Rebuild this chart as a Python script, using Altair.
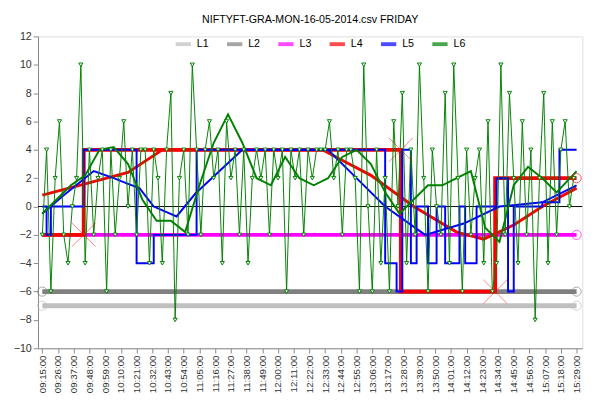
import altair as alt
import pandas as pd

# minutes after 09:15
N = 374

l4_x = [0, 29, 29, 251, 251, 317, 317, 374]
l4_y = [-2, -2, 4, 4, -6, -6, 2, 2]

l4t_x = [0, 30, 60, 84, 196, 230, 260, 290, 309, 330, 350, 374]
l4t_y = [0.8, 1.6, 2.4, 4.0, 4.0, 2.2, 0.0, -1.8, -2.3, -1.3, 0.0, 1.3]

l5_x = [0, 3, 3, 6, 6, 29, 29, 66, 66, 78, 78, 108, 108, 240, 240, 248, 248, 252, 252, 258, 258, 262, 262, 270, 270, 276, 276,
        282, 282, 292, 292, 296, 296, 304, 304, 318, 318, 326, 326, 330, 330, 350, 350, 362, 362, 374]
l5_y = [0, 0, -2, -2, 0, 0, 4, 4, -4, -4, -2, -2, 4, 4, -4, -4, -6, -6, 4, 4, -4, -4, 0, 0, -4, -4, 0,
        0, -4, -4, 0, 0, -4, -4, 0, 0, 2, 2, -6, -6, 0, 0, 0.3, 0.3, 4, 4]

l5s_x = [0, 15, 36, 50, 60, 68, 78, 94, 107, 140, 200, 215, 240, 268, 295, 320, 350, 374]
l5s_y = [-0.5, 0.8, 2.5, 2.0, 1.6, 1.3, 0.0, -0.7, 0.9, 4.0, 4.0, 2.5, 0.0, -2.0, -1.2, 0.0, 0.3, 1.5]

l6_x = list(range(0, 375, 3))
l6_y = [-2, 4, -6, 2, 6, -2, -4, 0, 2, 10, -4, 4, -2, 2, 4, -6, 4, -2, 2, 6, 0, 4, -2, 4, 4,
        -4, 4, 2, -4, 4, 8, -8, 2, 4, -2, 10, 4, -2, 4, 6, 2, 4, -4, 6, 2, 4, -2, 4, -4, 2,
        4, 2, 4, -2, 4, 2, 4, -6, 4, 2, 4, -2, 4, 2, 4, 4, 4, 6, 2, 4, -2, 4, 4, 2, -6,
        10, 0, -6, 4, -4, 2, -6, 6, 0, 8, -4, 4, -2, 10, 2, -6, 4, 0, -2, 8, -4, 10, 2, -6, 4,
        -2, 2, 4, -4, 6, -6, -4, 10, -2, 8, 2, -4, 6, -2, 4, -8, 2, 8, -4, 6, -2, 4, 6, 0, 2]

l6s_x = [0, 10, 20, 30, 40, 50, 60, 70, 80, 90, 100, 110, 120, 130, 140, 150, 160, 170, 180, 190, 200,
         210, 220, 230, 240, 250, 260, 270, 280, 290, 300, 310, 320, 330, 340, 350, 360, 374]
l6s_y = [-0.5, 0.5, 1.5, 2.2, 4.0, 4.2, 3.0, 0.5, -1.0, -1.0, -1.8, 1.5, 4.5, 6.5, 4.5, 2.0, 1.5, 3.5, 2.0, 1.5, 2.0,
         3.5, 4.0, 3.0, 1.0, -0.5, 0.5, 1.5, 1.5, 2.0, 2.5, -1.5, -2.5, 1.5, 2.8, 2.0, 1.0, 2.5]

cross_x = [29, 251, 317]
cross_y = [-2, 4, -6]

rows = []
rows += [dict(t=x, v=-7, s="L1", k="L1") for x in (0, N)]
rows += [dict(t=x, v=-6, s="L2", k="L2") for x in (0, N)]
rows += [dict(t=x, v=-2, s="L3", k="L3") for x in (0, N)]
rows += [dict(t=x, v=y, s="L4", k="L4") for x, y in zip(l4_x, l4_y)]
rows += [dict(t=x, v=y, s="L4", k="L4t") for x, y in zip(l4t_x, l4t_y)]
rows += [dict(t=x, v=y, s="L5", k="L5") for x, y in zip(l5_x, l5_y)]
rows += [dict(t=x, v=y, s="L5", k="L5s") for x, y in zip(l5s_x, l5s_y)]
rows += [dict(t=x, v=y, s="L6", k="L6") for x, y in zip(l6_x, l6_y)]
rows += [dict(t=x, v=y, s="L6", k="L6s") for x, y in zip(l6s_x, l6s_y)]
df = pd.DataFrame(rows)
df["o"] = range(len(df))

names = ["L1", "L2", "L3", "L4", "L5", "L6"]
colors = ["#c0c0c0", "#808080", "#ff00ff", "#ff0000", "#0000ff", "#008000"]
widths = {"L1": 5, "L2": 5, "L3": 4, "L4": 4, "L4t": 3, "L5": 2, "L5s": 2, "L6": 1, "L6s": 2}
df["w"] = df["k"].map(widths)

label = ("(floor((datum.value+555)/60)<10?'0':'')+floor((datum.value+555)/60)+':'+"
         "(((datum.value+555)%60)<10?'0':'')+((datum.value+555)%60)+':00'")

xs = alt.Scale(domain=[-3, N + 4], nice=False)
ys = alt.Scale(domain=[-10, 12])
x = alt.X("t:Q", scale=xs,
          axis=alt.Axis(values=list(range(0, N + 1, 11)), labelExpr=label, labelAngle=-90,
                        labelOverlap=False, grid=False, title=None, labelFontSize=10,
                        labelColor="#333", labelFlush=False))
y = alt.Y("v:Q", scale=ys,
          axis=alt.Axis(values=list(range(-10, 13, 2)), labelOverlap=False, grid=False, title=None,
                        labelFontSize=11, labelColor="#333"))
color = alt.Color("s:N", scale=alt.Scale(domain=names, range=colors),
                  legend=alt.Legend(orient="none", legendX=140, legendY=-2, direction="horizontal",
                                    title=None, symbolType="stroke", symbolStrokeWidth=4,
                                    labelFontSize=11, symbolSize=250, columnPadding=10))

lines = alt.Chart(df).mark_line(interpolate="linear").encode(
    x=x, y=y, color=color, detail="k:N", order="o:Q",
    strokeWidth=alt.StrokeWidth("w:Q", scale=None, legend=None))

pts = alt.Chart(pd.DataFrame({"t": l6_x, "v": l6_y})).mark_point(
    shape="triangle-down", size=18, color="#008000", fill="white", filled=True,
    stroke="#008000", strokeWidth=1, opacity=1).encode(x=x, y=y)

zero = alt.Chart(pd.DataFrame({"t": [-3, N + 4], "v": [0, 0]})).mark_line(
    color="black", strokeWidth=1).encode(x=x, y=y)

crosses = alt.Chart(pd.DataFrame({"t": cross_x, "v": cross_y})).mark_point(
    shape="M-1,-1L1,1M-1,1L1,-1", size=600, color="#ff0000", strokeWidth=0.7).encode(x=x, y=y)

ends = alt.Chart(pd.DataFrame({"t": [0, 0, N, N, N, N], "v": [-6, -7, -6, -7, -2, 2],
                               "c": ["#808080", "#c0c0c0", "#808080", "#c0c0c0", "#ff00ff", "#ff0000"]})).mark_point(
    shape="circle", size=90, strokeWidth=1).encode(x=x, y=y, color=alt.Color("c:N", scale=None))

chart = alt.layer(zero, lines, pts, crosses, ends).properties(
    width=562, height=322, padding={"left": 5, "right": 5, "top": 0, "bottom": 0},
    title=alt.TitleParams("NIFTYFT-GRA-MON-16-05-2014.csv  FRIDAY", fontSize=11, fontWeight="normal",
                          offset=6),
).configure_view(stroke="black").configure_axis(domainColor="black", tickColor="black").configure(
    font="Liberation Sans")

chart.save("out.html", embed_options={"renderer": "svg", "actions": False})
